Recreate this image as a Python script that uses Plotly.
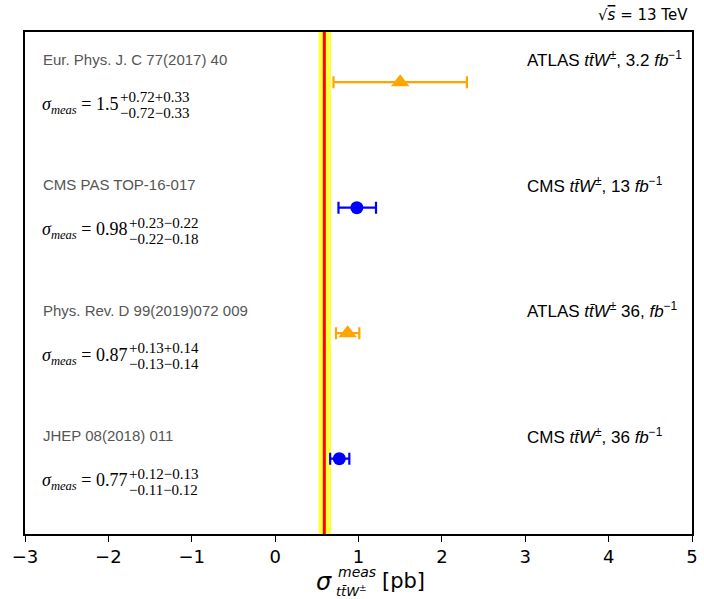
import plotly.graph_objects as go

# ---- data ----
references = ["Eur. Phys. J. C 77(2017) 40", "CMS PAS TOP-16-017",
              "Phys. Rev. D 99(2019)072 009", "JHEP 08(2018) 011"]
experiments = ["ATLAS", "CMS", "ATLAS", "CMS"]
lumi_labels = ["ATLAS <i>tt̄W</i><sup>±</sup>, 3.2 <i>fb</i><sup>−1</sup>",
               "CMS <i>tt̄W</i><sup>±</sup>, 13 <i>fb</i><sup>−1</sup>",
               "ATLAS <i>tt̄W</i><sup>±</sup> 36, <i>fb</i><sup>−1</sup>",
               "CMS <i>tt̄W</i><sup>±</sup>, 36 <i>fb</i><sup>−1</sup>"]
sigma_text = ["1.5", "0.98", "0.87", "0.77"]
sigma = [1.5, 0.98, 0.87, 0.77]
err_plus = [0.80, 0.23, 0.14, 0.12]
err_minus = [0.80, 0.22, 0.14, 0.11]
sup_text = ["+0.72+0.33", "+0.23−0.22", "+0.13+0.14", "+0.12−0.13"]
sub_text = ["−0.72−0.33", "−0.22−0.18", "−0.13−0.14", "−0.11−0.12"]
sm_center = 0.59
sm_low, sm_high = 0.52, 0.67
x_ticks = [-3, -2, -1, 0, 1, 2, 3, 4, 5]
x_ticktext = ["−3", "−2", "−1", "0", "1", "2", "3", "4", "5"]

W, H = 704, 599
ML, MR, MT, MB = 25, 6, 32, 65
PW = W - ML - MR
PH = H - MT - MB

def px(xp):
    return (xp - ML) / PW

def py(yp):
    return (H - MB - yp) / PH

n = len(sigma)
ypos = [n - i - 0.4 for i in range(n)]

colors = {"ATLAS": "#FFA500", "CMS": "#0000FF"}
symbols = {"ATLAS": "triangle-up", "CMS": "circle"}

fig = go.Figure()

fig.add_shape(type="rect", xref="x", yref="paper", x0=sm_low, x1=sm_high, y0=0, y1=1,
              fillcolor="#FFFF3A", line_width=0, layer="below")
fig.add_shape(type="line", xref="x", yref="paper", x0=sm_center, x1=sm_center, y0=0, y1=1,
              line=dict(color="#FF0000", width=3), layer="below")

for i in range(n):
    e = experiments[i]
    fig.add_trace(go.Scatter(
        x=[sigma[i]], y=[ypos[i]], mode="markers",
        marker=dict(color=colors[e], symbol=symbols[e], size=16 if e == "ATLAS" else 13,
                    line=dict(width=0)),
        error_x=dict(type="data", array=[err_plus[i]], arrayminus=[err_minus[i]],
                     color=colors[e], thickness=2.2, width=6),
        showlegend=False, hoverinfo="skip"))

annotations = []
for i in range(n):
    annotations.append(dict(x=px(41), y=ypos[i], xref="paper", yref="y", yshift=23,
                            text=references[i], showarrow=False, xanchor="left", yanchor="middle",
                            font=dict(family="Liberation Sans", size=15, color="#555555")))
    annotations.append(dict(x=px(530), y=ypos[i], xref="paper", yref="y", yshift=23,
                            text=lumi_labels[i], showarrow=False, xanchor="left", yanchor="middle",
                            font=dict(family="Liberation Sans", size=17, color="#000000")))
    annotations.append(dict(x=px(40), y=ypos[i], xref="paper", yref="y", yshift=-23,
                            text="<i>σ</i><sub><i>meas</i></sub> = " + sigma_text[i],
                            showarrow=False, xanchor="left", yanchor="middle",
                            font=dict(family="Liberation Serif", size=18, color="#000000")))
    vw = sum(4.5 if c == "." else 9 for c in sigma_text[i])
    xend = 40 + 56 + vw
    annotations.append(dict(x=px(xend), y=ypos[i], xref="paper", yref="y", yshift=-15,
                            text=sup_text[i], showarrow=False, xanchor="left", yanchor="middle",
                            font=dict(family="Liberation Serif", size=15, color="#000000")))
    annotations.append(dict(x=px(xend), y=ypos[i], xref="paper", yref="y", yshift=-31,
                            text=sub_text[i], showarrow=False, xanchor="left", yanchor="middle",
                            font=dict(family="Liberation Serif", size=15, color="#000000")))

annotations.append(dict(x=px(696), y=py(15), xref="paper", yref="paper",
                        text="√<span style='text-decoration:overline'><i>s</i></span> = 13 TeV",
                        showarrow=False, xanchor="right", yanchor="middle",
                        font=dict(family="DejaVu Sans", size=15, color="#000000")))

tx = 337
annotations.append(dict(x=px(tx), y=py(582), xref="paper", yref="paper", text="<i>σ</i>",
                        showarrow=False, xanchor="right", yanchor="middle",
                        font=dict(family="DejaVu Sans", size=24, color="#000000")))
annotations.append(dict(x=px(tx + 2), y=py(572), xref="paper", yref="paper", text="<i>meas</i>",
                        showarrow=False, xanchor="left", yanchor="middle",
                        font=dict(family="DejaVu Sans", size=14, color="#000000")))
annotations.append(dict(x=px(tx), y=py(591), xref="paper", yref="paper", text="<i>tt̄W</i><sup>±</sup>",
                        showarrow=False, xanchor="left", yanchor="middle",
                        font=dict(family="DejaVu Sans", size=13, color="#000000")))
annotations.append(dict(x=px(tx + 46), y=py(581), xref="paper", yref="paper", text="[pb]",
                        showarrow=False, xanchor="left", yanchor="middle",
                        font=dict(family="DejaVu Sans", size=21, color="#000000")))

fig.update_layout(
    width=W, height=H,
    margin=dict(l=ML, r=MR, t=MT, b=MB, pad=0),
    plot_bgcolor="white", paper_bgcolor="white",
    annotations=annotations,
    xaxis=dict(range=[-3, 5], tickvals=x_ticks, ticktext=x_ticktext, ticks="outside",
               ticklen=6, tickwidth=1.2, tickcolor="black", showgrid=False, zeroline=False,
               showline=True, linecolor="black", linewidth=1.5, mirror=True,
               tickfont=dict(family="DejaVu Sans", size=18, color="black")),
    yaxis=dict(range=[0, 4], showticklabels=False, ticks="", showgrid=False, zeroline=False,
               showline=True, linecolor="black", linewidth=1.5, mirror=True),
)

fig.write_html("out.html")
